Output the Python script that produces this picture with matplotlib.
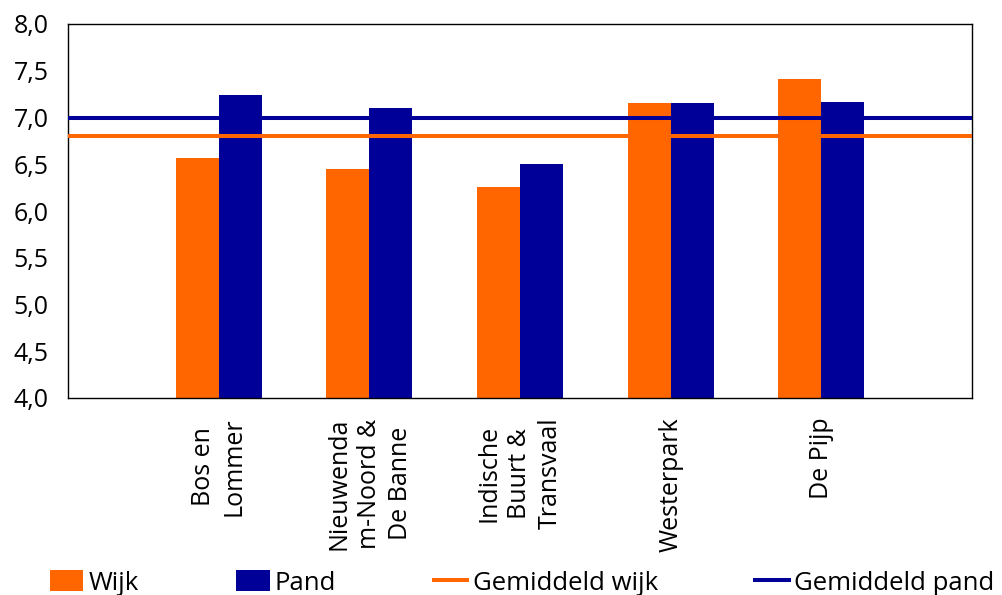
import numpy as np
import matplotlib
matplotlib.use('Agg')
import matplotlib.pyplot as plt
from matplotlib.ticker import FuncFormatter

plt.rcParams['font.family'] = ['Open Sans', 'DejaVu Sans']

wijken = ['Bos en\nLommer', 'Nieuwenda\nm-Noord &\nDe Banne', 'Indische\nBuurt &\nTransvaal',
          'Westerpark', 'De Pijp']
wijk = [6.57, 6.45, 6.26, 7.16, 7.41]
pand = [7.24, 7.10, 6.50, 7.15, 7.17]
gem_wijk = 6.8
gem_pand = 7.0

oranje = '#FF6600'
blauw = '#000099'

fig = plt.figure(figsize=(10.02, 5.95), dpi=100)
ax = fig.add_axes([68/1002, 1-398/595, (972-68)/1002, (398-24)/595])

x = np.arange(1, len(wijken) + 1)
w = 0.285
b1 = ax.bar(x - w, wijk, width=w, align='edge', color=oranje, label='Wijk', zorder=2)
b2 = ax.bar(x, pand, width=w, align='edge', color=blauw, label='Pand', zorder=2)
l1 = ax.axhline(gem_wijk, color=oranje, lw=2.9, label='Gemiddeld wijk', zorder=3)
l2 = ax.axhline(gem_pand, color=blauw, lw=2.9, label='Gemiddeld pand', zorder=3)

ax.set_xlim(0, len(wijken) + 1)
ax.set_ylim(4, 8)
ax.set_yticks(np.arange(4, 8.01, 0.5))
ax.yaxis.set_major_formatter(FuncFormatter(lambda v, p: f'{v:.1f}'.replace('.', ',')))
ax.set_xticks(x)
ax.set_xticklabels(wijken, rotation=90, ha='center', va='top', multialignment='center',
                   linespacing=1.3)
ax.tick_params(axis='both', length=0, labelsize=18)
ax.tick_params(axis='y', pad=14)
ax.tick_params(axis='x', pad=14)
for s in ax.spines.values():
    s.set_color('black')
    s.set_linewidth(1.0)

# legenda onderaan
fig.legend([b1, b2, l1, l2], ['Wijk', 'Pand', 'Gemiddeld wijk', 'Gemiddeld pand'],
           loc='center left', bbox_to_anchor=(50/1002, 1-583/595), ncol=4, frameon=False,
           fontsize=18.5, borderpad=0, borderaxespad=0, columnspacing=3.8,
           handlelength=1.3, handletextpad=0.2, handleheight=0.85)

fig.savefig('out.png', dpi=100)
